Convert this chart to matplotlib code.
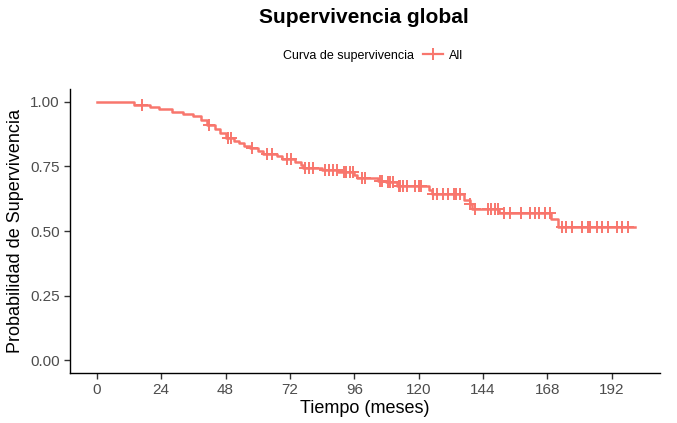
import numpy as np
import matplotlib
matplotlib.use("Agg")
import matplotlib.pyplot as plt
from matplotlib.lines import Line2D

plt.rcParams['font.family'] = ['Liberation Sans', 'DejaVu Sans']

# Kaplan-Meier steps (months, survival after step)
step_times = [0, 14, 20, 23, 28, 32, 36, 39, 41, 44, 46, 48, 51, 53, 55, 57,
              60, 62, 67, 69, 74, 76, 77, 84, 90, 96, 97, 105, 108, 112,
              124, 125, 137, 139, 140, 150, 169.5, 172]
step_surv = [1.0, 0.988, 0.980, 0.973, 0.962, 0.953, 0.946, 0.930, 0.910,
             0.895, 0.880, 0.862, 0.850, 0.840, 0.830, 0.820, 0.810, 0.800,
             0.790, 0.778, 0.768, 0.757, 0.745, 0.737, 0.727, 0.715, 0.705,
             0.695, 0.688, 0.675, 0.660, 0.643, 0.622, 0.603, 0.585, 0.570,
             0.545, 0.515]
end_time = 200.5

# censored times (months)
censor_times = [17, 42, 49, 50, 58, 63.5, 65.5, 71, 72.5, 77.5, 79, 80.5,
                85, 86.5, 88, 89.5, 92, 93, 94.5, 95.5, 99, 100, 105.5, 106.5,
                108.5, 109.5, 110.5, 112.5, 113, 114, 115.5, 118.5, 120, 121,
                125.5, 127, 129, 131, 133, 134, 135.5, 139, 141, 146, 147,
                148.5, 149.5, 152, 154, 158, 161.5, 163.5, 165, 167, 169,
                173.5, 175, 177, 181, 183, 184, 186.5, 188.5, 190.5, 194,
                196, 198]

x_ticks = [0, 24, 48, 72, 96, 120, 144, 168, 192]
y_ticks = [0.0, 0.25, 0.5, 0.75, 1.0]

red = '#F8766D'

fig = plt.figure(figsize=(6.77, 4.23), dpi=100)
ax = fig.add_axes([0.1034, 0.1182, 0.8715, 0.6714])

t = list(step_times) + [end_time]
s = list(step_surv) + [step_surv[-1]]
ax.step(t, s, where='post', color=red, lw=1.8)

idx = np.searchsorted(step_times, censor_times, side='right') - 1
cens_y = np.array(step_surv)[idx]
ax.plot(censor_times, cens_y, ls='none', marker='+', ms=8, mew=1.4, color=red)

ax.set_xlim(-10, 210)
ax.set_ylim(-0.05, 1.05)
ax.set_xticks(x_ticks)
ax.set_yticks(y_ticks)
ax.set_yticklabels([f"{v:.2f}" for v in y_ticks])
for sp in ['top', 'right']:
    ax.spines[sp].set_visible(False)
for sp in ['left', 'bottom']:
    ax.spines[sp].set_linewidth(1.0)
ax.tick_params(axis='both', labelsize=11, labelcolor='#4D4D4D', length=4,
               width=1.0, color='#333333')

ax.set_xlabel("Tiempo (meses)", fontsize=13, labelpad=2)
ax.set_ylabel("Probabilidad de Supervivencia", fontsize=13, labelpad=4)

fig.text(0.538, 0.958, "Supervivencia global", ha='center', va='center',
         fontsize=15, fontweight='bold')
fig.text(0.611, 0.868, "Curva de supervivencia", ha='right', va='center',
         fontsize=9)
h = Line2D([], [], color=red, marker='+', ms=8, mew=1.4, lw=1.6)
fig.legend([h], ["All"], loc='center left', bbox_to_anchor=(0.625, 0.868),
           frameon=False, fontsize=9, handlelength=1.6, handletextpad=0.5,
           borderpad=0, borderaxespad=0)

fig.savefig("out.png", dpi=100)
